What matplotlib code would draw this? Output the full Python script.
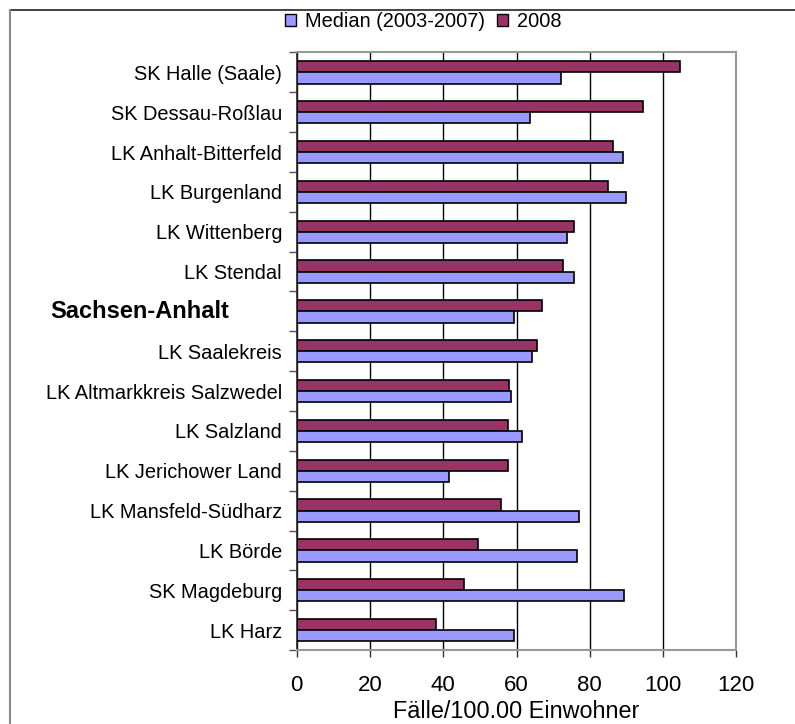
import numpy as np
import matplotlib
matplotlib.use("Agg")
import matplotlib.pyplot as plt
from matplotlib.patches import Patch
from matplotlib.lines import Line2D
import matplotlib.transforms as mtransforms

plt.rcParams['font.family'] = ['Liberation Sans', 'DejaVu Sans']

# districts, listed top to bottom
kreise = ["SK Halle (Saale)", "SK Dessau-Roßlau", "LK Anhalt-Bitterfeld",
          "LK Burgenland", "LK Wittenberg", "LK Stendal", "Sachsen-Anhalt",
          "LK Saalekreis", "LK Altmarkkreis Salzwedel", "LK Salzland",
          "LK Jerichower Land", "LK Mansfeld-Südharz", "LK Börde",
          "SK Magdeburg", "LK Harz"]
median_03_07 = [72.2, 63.8, 89.0, 89.9, 73.9, 75.6, 59.3, 64.2, 58.4, 61.5,
                41.6, 77.1, 76.5, 89.4, 59.3]
werte_2008 = [104.5, 94.4, 86.4, 85.1, 75.7, 72.6, 66.9, 65.5, 58.0, 57.6,
              57.6, 55.8, 49.6, 45.6, 38.0]
land = "Sachsen-Anhalt"
xticks = [0, 20, 40, 60, 80, 100, 120]

c_median = "#9999FF"
c_2008 = "#993366"

fig = plt.figure(figsize=(7.95, 7.24), dpi=100)
ax = fig.add_axes([0.3732, 0.1022, 0.5530, 0.8253])

y = np.arange(len(kreise))
h = 0.28
ax.barh(y - h / 2, werte_2008, height=h, color=c_2008, edgecolor="black",
        linewidth=1.2, zorder=3)
ax.barh(y + h / 2, median_03_07, height=h, color=c_median, edgecolor="black",
        linewidth=1.2, zorder=3)

ax.set_xlim(0, 120)
ax.set_ylim(len(kreise) - 0.5, -0.5)
ax.set_xticks(xticks)
ax.set_xticklabels([str(v) for v in xticks], fontsize=16)
ax.xaxis.grid(True, color="black", linewidth=1.0, zorder=0)
ax.tick_params(axis="x", direction="out", length=5, width=1, color="#333333", pad=13)

# category labels centred, tick marks on the category boundaries
ax.set_yticks(y)
ax.set_yticklabels(["" if k == land else k for k in kreise], fontsize=14.4)
ax.tick_params(axis="y", which="major", length=0, pad=10.5)
ax.set_yticks(np.arange(-0.5, len(kreise), 1.0), minor=True)
ax.tick_params(axis="y", which="minor", direction="out", length=5.5, width=1,
               color="#555555")

trans = mtransforms.blended_transform_factory(fig.transFigure, ax.transData)
fig.text(50 / 795, kreise.index(land), land, transform=trans, ha="left",
         va="center", fontsize=17, fontweight="bold")

ax.set_xlabel("Fälle/100.00 Einwohner", fontsize=16.8, labelpad=3)

for s in ["top", "right", "bottom"]:
    ax.spines[s].set_color("#999999")
    ax.spines[s].set_linewidth(1.5)
ax.spines["left"].set_color("#222222")
ax.spines["left"].set_linewidth(1.2)

handles = [Patch(facecolor=c_median, edgecolor="black", linewidth=1.0),
           Patch(facecolor=c_2008, edgecolor="black", linewidth=1.0)]
fig.legend(handles, ["Median (2003-2007)", "2008"], loc="center",
           bbox_to_anchor=(0.533, 0.970), ncol=2, frameon=False,
           fontsize=14.4, handlelength=0.55, handleheight=0.55,
           handletextpad=0.45, columnspacing=0.6, borderpad=0)

# outer frame: top and left edge
fig.add_artist(Line2D([10 / 795, 1.0], [1 - 10 / 724, 1 - 10 / 724],
                      transform=fig.transFigure, color="#222222", linewidth=1.2))
fig.add_artist(Line2D([10 / 795, 10 / 795], [0, 1 - 10 / 724],
                      transform=fig.transFigure, color="#888888", linewidth=1.5))

fig.savefig("out.png", dpi=100)
